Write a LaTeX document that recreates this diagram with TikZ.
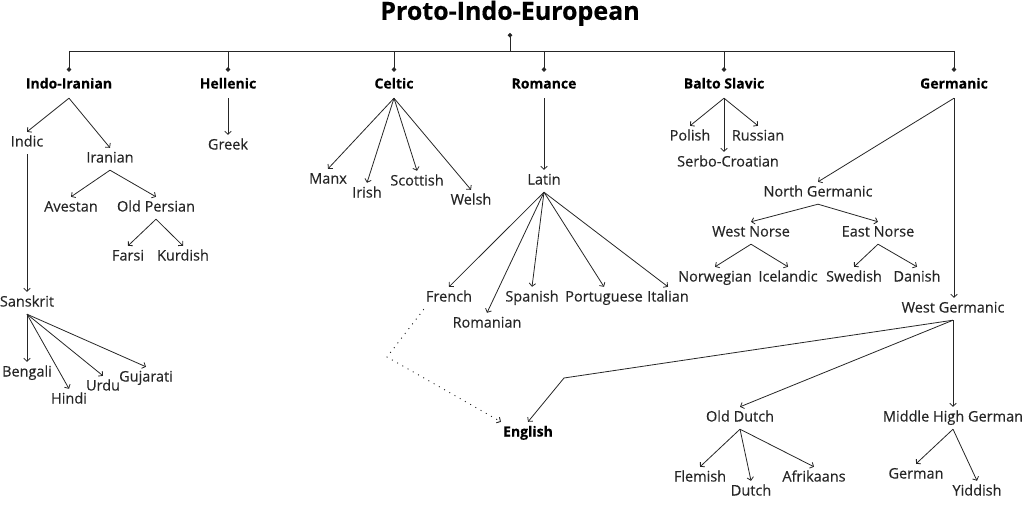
\documentclass[tikz,border=0pt]{standalone}
\usepackage{fontspec}
\setmainfont{Open Sans}[FakeBold=0.35]
\usetikzlibrary{arrows.meta,positioning,calc}
\definecolor{ink}{HTML}{262626}

\begin{document}
\begin{tikzpicture}[
    x=1pt, y=-1pt,
    >={Straight Barb[length=3pt,width=6.5pt]},
    lang/.style={inner xsep=2pt, inner ysep=5pt, text height=9.5pt, text depth=2.5pt,
        font=\fontsize{14.5}{16}\selectfont, text=ink},
    branch/.style={lang, inner ysep=7pt, font=\fontsize{14}{16}\selectfont\bfseries, text=black},
    link/.style={->, draw=ink, line width=0.8pt},
    loan/.style={->, draw=ink, line width=0.9pt, dash pattern=on 1pt off 5pt},
    stem/.style={draw=ink, line width=0.8pt}
]
\useasboundingbox (0,0) rectangle (1024,513);

% --- ROOT AND BRANCHES ---
\node[font=\fontsize{25}{28}\selectfont\bfseries, anchor=south, inner sep=7pt] (pie) at (510,33) {Proto-Indo-European};
\coordinate (bus) at (510,51);

\node[branch] (iir) at (69,85) {Indo-Iranian};
\node[branch] (hel) at (228,85) {Hellenic};
\node[branch] (cel) at (394,85) {Celtic};
\node[branch] (rom) at (544,85) {Romance};
\node[branch] (bal) at (724,85) {Balto Slavic};
\node[branch] (ger) at (954,85) {Germanic};

% --- INDO-IRANIAN ---
\node[lang] (indic) at (27,143) {Indic};
\node[lang] (iran) at (110,159) {Iranian};
\node[lang] (aves) at (71,208) {Avestan};
\node[lang] (oper) at (156,208) {Old Persian};
\node[lang] (farsi) at (128,257) {Farsi};
\node[lang] (kurd) at (183,257) {Kurdish};
\node[lang] (sans) at (27,303) {Sanskrit};
\node[lang] (beng) at (27,373) {Bengali};
\node[lang] (hindi) at (69,400) {Hindi};
\node[lang] (urdu) at (103,387) {Urdu};
\node[lang] (guj) at (146,378) {Gujarati};

% --- HELLENIC AND CELTIC ---
\node[lang] (greek) at (228,146) {Greek};
\node[lang] (manx) at (328,180) {Manx};
\node[lang] (irish) at (367,194) {Irish};
\node[lang] (scot) at (417,182) {Scottish};
\node[lang] (welsh) at (471,201) {Welsh};

% --- ROMANCE ---
\node[lang] (latin) at (544,181) {Latin};
\node[lang] (french) at (449,298) {French};
\node[lang] (roman) at (487,324) {Romanian};
\node[lang] (span) at (532,298) {Spanish};
\node[lang] (port) at (604,298) {Portuguese};
\node[lang] (ital) at (668,298) {Italian};
\node[lang, font=\fontsize{14}{16}\selectfont\bfseries, text=black] (eng) at (528,433) {English};

% --- BALTO SLAVIC ---
\node[lang] (polish) at (690,137) {Polish};
\node[lang] (russ) at (758,137) {Russian};
\node[lang] (serbo) at (728,163) {Serbo-Croatian};

% --- GERMANIC ---
\node[lang] (ngerm) at (818,193) {North Germanic};
\node[lang] (wnorse) at (751,233) {West Norse};
\node[lang] (enorse) at (878,233) {East Norse};
\node[lang] (norw) at (715,278) {Norwegian};
\node[lang] (icel) at (788,278) {Icelandic};
\node[lang] (swed) at (854,278) {Swedish};
\node[lang] (dan) at (917,278) {Danish};
\node[lang] (wgerm) at (953,309) {West Germanic};
\node[lang] (odutch) at (740,418) {Old Dutch};
\node[lang] (mhg) at (953,418) {Middle High German};
\node[lang] (flem) at (700,478) {Flemish};
\node[lang] (dutch) at (751,492) {Dutch};
\node[lang] (afrik) at (814,478) {Afrikaans};
\node[lang] (german) at (916,475) {German};
\node[lang] (yidd) at (977,492) {Yiddish};

\coordinate (kink) at (564,378);
\coordinate (loanbend) at (387,357);

% --- EDGES ---
\draw[stem, {Circle[length=4.5pt]}-] (pie.south) -- (bus);
\draw[stem] (bus -| iir) -- (bus -| ger);
\foreach \b in {iir,hel,cel,rom,bal,ger}
    \draw[stem, -{Circle[length=4.5pt]}] (bus -| \b) -- (\b.north);

\foreach \c in {indic,iran} \draw[link] (iir.south) -- (\c.north);
\foreach \c in {aves,oper} \draw[link] (iran.south) -- (\c.north);
\foreach \c in {farsi,kurd} \draw[link] (oper.south) -- (\c.north);
\draw[link] (indic.south) -- (sans.north);
\foreach \c in {beng,hindi,urdu,guj} \draw[link] (sans.south) -- (\c.north);

\draw[link] (hel.south) -- (greek.north);
\foreach \c in {manx,irish,scot,welsh} \draw[link] (cel.south) -- (\c.north);

\draw[link] (rom.south) -- (latin.north);
\foreach \c in {french,roman,span,port,ital} \draw[link] (latin.south) -- (\c.north);

\foreach \c in {polish,russ} \draw[link] (bal.south) -- (\c.north);
\draw[link] (bal.south) -- (bal.south |- serbo.north);

\draw[link] (ger.south) -- (ngerm.north);
\draw[link] (ger.south) -- (ger.south |- wgerm.north);
\foreach \c in {wnorse,enorse} \draw[link] (ngerm.south) -- (\c.north);
\foreach \c in {norw,icel} \draw[link] (wnorse.south) -- (\c.north);
\foreach \c in {swed,dan} \draw[link] (enorse.south) -- (\c.north);
\draw[link] (wgerm.south) -- (kink) -- (eng.north);
\draw[link] (wgerm.south) -- (odutch.north);
\draw[link] (wgerm.south) -- (wgerm.south |- mhg.north);
\foreach \c in {flem,dutch,afrik} \draw[link] (odutch.south) -- (\c.north);
\foreach \c in {german,yidd} \draw[link] (mhg.south) -- (\c.north);

% French loanwords into English
\draw[loan] (french.south west) -- (loanbend) -- (eng.north west);

\end{tikzpicture}
\end{document}
